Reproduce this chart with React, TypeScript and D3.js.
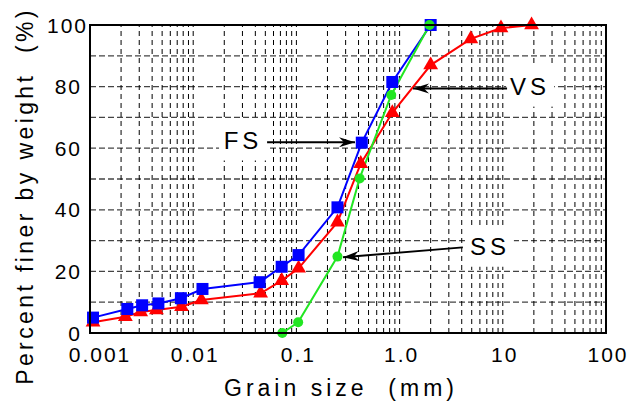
import React from "react";
import * as d3 from "d3";

// grain size (mm) and percent finer
const fsSize = [0.00107, 0.0023, 0.0032, 0.0046, 0.0076, 0.0123, 0.044, 0.072, 0.105, 0.25, 0.43, 0.85, 2.0];
const fsPct = [5, 7.8, 9, 9.6, 11.3, 14.3, 16.5, 21.5, 25.3, 40.8, 61.8, 81.5, 100];

const vsSize = [0.00107, 0.0022, 0.0031, 0.0044, 0.0077, 0.012, 0.045, 0.072, 0.105, 0.25, 0.42, 0.85, 2.0, 4.9, 9.6, 19];
const vsPct = [3.5, 5.3, 6.8, 7.5, 8.5, 10.7, 12.9, 17, 21, 36, 55, 71.5, 87, 95.5, 99, 100];

const ssSize = [0.073, 0.104, 0.25, 0.41, 0.83, 1.95];
const ssPct = [0, 3.5, 24.8, 50.2, 77.3, 100];

const xTicks = [0.001, 0.01, 0.1, 1, 10, 100];
const xTickLabels = ["0.001", "0.01", "0.1", "1.0", "10", "100"];
const yTicks = [0, 20, 40, 60, 80, 100];

// label text, label position, arrow tail, arrow tip (data units)
const notes = [
  { text: "FS", at: [0.0304, 62.5], from: [0.052, 61.9], to: [0.37, 61.9] },
  { text: "VS", at: [18.4, 80], from: [11, 79.4], to: [1.35, 79.4] },
  { text: "SS", at: [7.5, 28], from: [4.1, 27.8], to: [0.283, 24.6] },
];

const W = 635,
  H = 403;
const margin = { top: 25, right: 29, bottom: 70, left: 90 };

const App = () => {
  const x = d3
    .scaleLog()
    .domain([0.001, 100])
    .range([margin.left, W - margin.right]);
  const y = d3
    .scaleLinear()
    .domain([0, 100])
    .range([H - margin.bottom, margin.top]);

  const x0 = margin.left,
    x1 = W - margin.right,
    y0 = H - margin.bottom,
    y1 = margin.top;

  // minor grid: 2..9 in each decade plus the inner decades
  const vGrid: number[] = [];
  for (let e = -3; e <= 1; e++) {
    for (let m = 1; m <= 9; m++) {
      const v = m * Math.pow(10, e);
      if (v > 0.001) vGrid.push(v);
    }
  }
  const hGrid = d3.range(10, 100, 10);

  const line = d3
    .line<[number, number]>()
    .x((d) => x(d[0]))
    .y((d) => y(d[1]));

  const fs = fsSize.map((s, i) => [s, fsPct[i]] as [number, number]);
  const vs = vsSize.map((s, i) => [s, vsPct[i]] as [number, number]);
  const ss = ssSize.map((s, i) => [s, ssPct[i]] as [number, number]);

  const tri = d3.symbol().type(d3.symbolTriangle).size(95)();

  const arrowHead = (fx: number, fy: number, tx: number, ty: number) => {
    const a = Math.atan2(ty - fy, tx - fx);
    const len = 16,
      half = 5,
      notch = 11;
    const pt = (l: number, w: number) => [
      tx - l * Math.cos(a) - w * Math.sin(a),
      ty - l * Math.sin(a) + w * Math.cos(a),
    ];
    const p1 = pt(len, half),
      p2 = pt(notch, 0),
      p3 = pt(len, -half);
    return `M${tx},${ty}L${p1[0]},${p1[1]}L${p2[0]},${p2[1]}L${p3[0]},${p3[1]}Z`;
  };

  const font = "Arial, 'Liberation Sans', sans-serif";

  return (
    <svg
      width={W}
      height={H}
      style={{ position: "absolute", left: 0, top: 0, background: "#fff" }}
      fontFamily={font}
    >
      <g>
        {hGrid.map((v) => (
          <line
            key={"h" + v}
            x1={x0}
            x2={x1}
            y1={y(v)}
            y2={y(v)}
            stroke="#444"
            strokeWidth={1.3}
            strokeDasharray="6,3"
          />
        ))}
        {vGrid.map((v) => (
          <line
            key={"v" + v}
            x1={x(v)}
            x2={x(v)}
            y1={y0}
            y2={y1}
            stroke="#000"
            strokeWidth={1}
            strokeDasharray="5,4"
          />
        ))}
      </g>

      {notes.map((n) => (
        <rect
          key={"bg" + n.text}
          x={x(n.at[0]) - 24}
          y={y(n.at[1]) - 20}
          width={48}
          height={40}
          fill="#fff"
        />
      ))}

      <path d={line(vs) || ""} fill="none" stroke="#ff0000" strokeWidth={2} />
      <path d={line(fs) || ""} fill="none" stroke="#0000ff" strokeWidth={2} />
      <path d={line(ss) || ""} fill="none" stroke="#22e622" strokeWidth={2} />

      {vs.map((d, i) => (
        <path
          key={"vs" + i}
          d={tri || ""}
          transform={`translate(${x(d[0])},${y(d[1])})`}
          fill="#ff0000"
        />
      ))}
      {fs.map((d, i) => (
        <rect
          key={"fs" + i}
          x={x(d[0]) - 6}
          y={y(d[1]) - 6}
          width={12}
          height={12}
          fill="#0000ff"
        />
      ))}
      {ss.map((d, i) => (
        <circle key={"ss" + i} cx={x(d[0])} cy={y(d[1])} r={5} fill="#22e622" />
      ))}

      <rect
        x={x0}
        y={y1}
        width={x1 - x0}
        height={y0 - y1}
        fill="none"
        stroke="#000"
        strokeWidth={2}
      />

      {notes.map((n) => {
        const fx = x(n.from[0]),
          fy = y(n.from[1]),
          tx = x(n.to[0]),
          ty = y(n.to[1]);
        return (
          <g key={"ar" + n.text}>
            <line x1={fx} y1={fy} x2={tx} y2={ty} stroke="#000" strokeWidth={2} />
            <path d={arrowHead(fx, fy, tx, ty)} fill="#000" />
            <text
              x={x(n.at[0])}
              y={y(n.at[1])}
              dy="0.36em"
              textAnchor="middle"
              fontSize={24}
              letterSpacing={4}
            >
              {n.text}
            </text>
          </g>
        );
      })}

      {xTicks.map((t, i) => (
        <text
          key={"xt" + t}
          x={x(t) + (i === 0 ? 10 : 2)}
          y={y0 + 29}
          textAnchor="middle"
          fontSize={21}
          letterSpacing={2}
        >
          {xTickLabels[i]}
        </text>
      ))}
      {yTicks.map((t, i) => (
        <text
          key={"yt" + t}
          x={x0 - 8 + (i === yTicks.length - 1 ? 6 : 0)}
          y={y(t)}
          dy="0.36em"
          textAnchor="end"
          fontSize={21}
          letterSpacing={2}
        >
          {t}
        </text>
      ))}

      <text
        x={341}
        y={396}
        textAnchor="middle"
        fontSize={23}
        letterSpacing={4}
        style={{ whiteSpace: "pre" }}
      >
        {"Grain size  (mm)"}
      </text>
      <text
        transform={`translate(33,196) rotate(-90)`}
        textAnchor="middle"
        fontSize={23}
        letterSpacing={3.4}
        style={{ whiteSpace: "pre" }}
      >
        {"Percent finer by weight  (%)"}
      </text>
    </svg>
  );
};

export default App;
